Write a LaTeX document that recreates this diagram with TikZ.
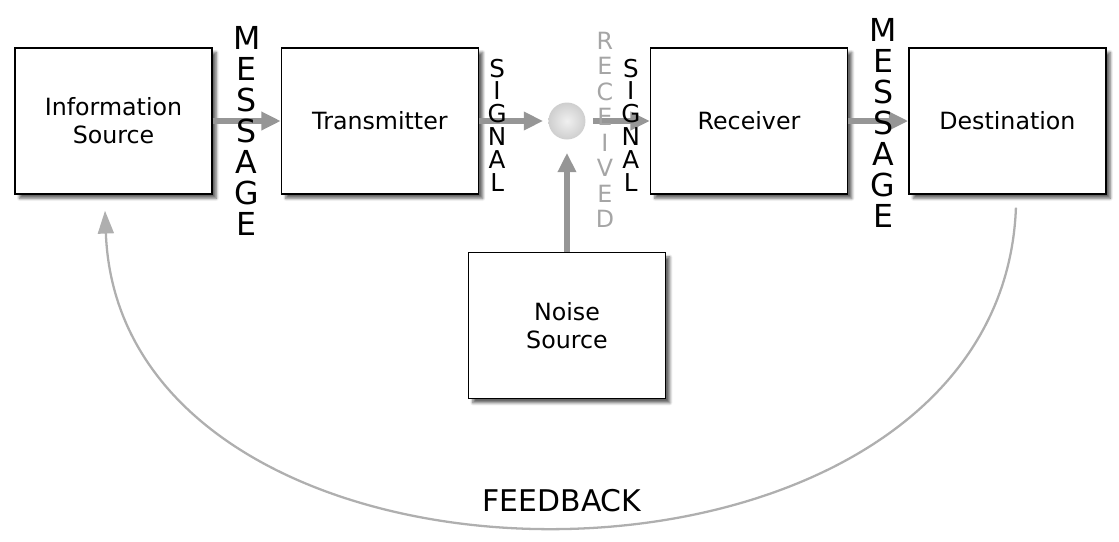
\documentclass[tikz,border=0pt]{standalone}
\usepackage{fontspec}
\setmainfont{DejaVu Sans}
\usetikzlibrary{arrows.meta, positioning, calc, shadows, shadows.blur}
\definecolor{flowgray}{RGB}{150,150,150}
\definecolor{fbgray}{RGB}{175,175,175}
\definecolor{rcvgray}{RGB}{165,165,165}

\begin{document}
\begin{tikzpicture}[
        block/.style={rectangle, draw=black, line width=0.8pt, fill=white, minimum width=3.94cm, minimum height=2.92cm, align=center, font=\fontsize{13.5}{16}\selectfont, blur shadow={shadow xshift=2.5pt, shadow yshift=-2.5pt, shadow blur steps=6, shadow blur radius=1.5pt, shadow opacity=60}},
        flow/.style={-{Triangle[length=11pt, width=10pt]}, line width=3pt, flowgray},
        feedback/.style={-{Triangle[length=13pt, width=9pt]}, line width=1.3pt, fbgray},
        bigword/.style={align=center, inner sep=0pt, font=\fontsize{18}{17.6}\selectfont},
        smallword/.style={align=center, inner sep=0pt, font=\fontsize{14}{13}\selectfont}
    ]
        \useasboundingbox (0,0) rectangle (22.38,-10.82);

        \node[block] (info) at (2.27,-2.42) {Information\\Source};
        \node[block, right=1.36cm of info] (trans) {Transmitter};
        \node[circle, minimum size=0.74cm, inner sep=0pt, shading=radial, inner color=gray!12, outer color=gray!38, right=1.38cm of trans] (ball) {};
        \node[block, right=1.28cm of ball] (recv) {Receiver};
        \node[block, right=1.2cm of recv] (dest) {Destination};
        \node[block, below=2.24cm of ball] (noise) {Noise\\Source};

        \draw[flow] (info) -- (trans);
        \draw[flow, shorten >=0.1cm] (trans) -- (ball);
        \draw[flow, shorten <=0.14cm] (ball) -- (recv);
        \draw[flow] (recv) -- (dest);
        \draw[flow, shorten >=0.26cm] (noise) -- (ball);

        \draw[feedback] ([xshift=0.17cm, yshift=-0.26cm]dest.south) .. controls (20,-12.64) and (2.42,-12.64) .. ([xshift=-0.17cm, yshift=-0.32cm]info.south);

        % labels on the links
        \node[bigword] (msga) at ([yshift=-0.2cm]$(info.east)!0.5!(trans.west)$) {M\\E\\S\\S\\A\\G\\E};
        \node[smallword] (siga) at ([xshift=0.36cm, yshift=-0.08cm]trans.east) {S\\I\\G\\N\\A\\L};
        \node[smallword, rcvgray, font=\fontsize{13.5}{14.5}\selectfont] (rcvd) at ([xshift=0.76cm, yshift=-0.18cm]ball.center) {R\\E\\C\\E\\I\\V\\E\\D};
        \node[smallword] (sigb) at ([xshift=-0.38cm, yshift=-0.08cm]recv.west) {S\\I\\G\\N\\A\\L};
        \node[bigword] (msgb) at ([xshift=0.1cm, yshift=-0.04cm]$(recv.east)!0.5!(dest.west)$) {M\\E\\S\\S\\A\\G\\E};

        \node[font=\fontsize{17}{20}\selectfont] (fb) at (11.24,-10.02) {FEEDBACK};
    \end{tikzpicture}
\end{document}
